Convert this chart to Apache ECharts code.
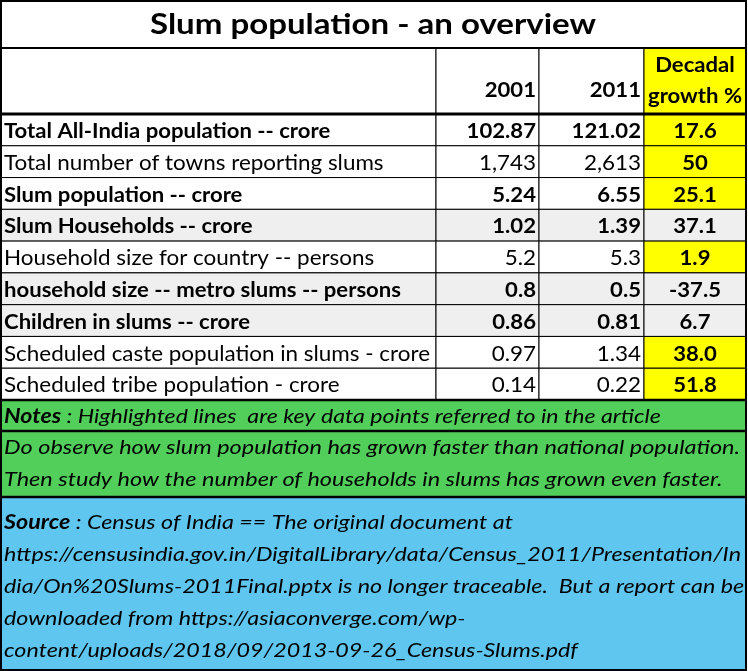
<!DOCTYPE html>
<html>
<head>
<meta charset="utf-8">
<script src="https://cdn.jsdelivr.net/npm/echarts@6/dist/echarts.min.js"></script>
<style>
  html, body { margin: 0; padding: 0; background: #fff; }
  #chart { width: 748px; height: 671px; }
</style>
</head>
<body>
<div id="chart"></div>
<script>
const title = "Slum population - an overview";
const columnHeaders = ["2001", "2011", "Decadal\ngrowth %"];
const rowLabels = [
  "Total All-India population -- crore",
  "Total number of towns reporting slums",
  "Slum population -- crore",
  "Slum Households -- crore",
  "Household size for country -- persons",
  "household size -- metro slums -- persons",
  "Children in slums -- crore",
  "Scheduled caste population in slums - crore",
  "Scheduled tribe population - crore"
];
const values2001 = [102.87, 1743, 5.24, 1.02, 5.2, 0.8, 0.86, 0.97, 0.14];
const values2011 = [121.02, 2613, 6.55, 1.39, 5.3, 0.5, 0.81, 1.34, 0.22];
const growth = [17.6, 50, 25.1, 37.1, 1.9, -37.5, 6.7, 38.0, 51.8];
const valueDecimals = [2, 0, 2, 2, 1, 1, 2, 2, 2];
const growthDecimals = [1, 0, 1, 1, 1, 1, 1, 1, 1];
// rows referred to in the article (yellow growth cell)
const keyRows = [true, true, true, false, true, false, false, true, true];
const boldRows = [true, false, true, true, false, true, true, false, false];
const shadedRows = [false, false, false, true, false, true, true, false, false];
const noteText = "Highlighted lines  are key data points referred to in the article";
const observeLines = [
  "Do observe how slum population has grown faster than national population.",
  "Then study how the number of households in slums has grown even faster."
];
const sourceLines = [
  "Census of India == The original document at",
  "https://censusindia.gov.in/DigitalLibrary/data/Census_2011/Presentation/In",
  "dia/On%20Slums-2011Final.pptx is no longer traceable.  But a report can be",
  "downloaded from https://asiaconverge.com/wp-",
  "content/uploads/2018/09/2013-09-26_Census-Slums.pdf"
];

const FONT = "Lato";
const colEdges = [0, 436, 539, 644, 746];
const yTitle = 48, yHead = 114, yTable = 400, yNotes = 431, yGreen = 497, yBlue = 669;

const measureCtx = document.createElement("canvas").getContext("2d");
function squeeze(text, font, width) {
  measureCtx.font = font;
  return width / measureCtx.measureText(text).width;
}
const regScale = squeeze(rowLabels[7], `21px ${FONT}`, 426);
const boldScale = squeeze(rowLabels[5], `bold 21px ${FONT}`, 397);
const titleScale = squeeze(title, `bold 29px ${FONT}`, 446);
const italicScale = squeeze(observeLines[0], `italic 20px ${FONT}`, 736);
const notesScale = squeeze("Notes : " + noteText, `italic 20px ${FONT}`, 656);
const sourceScale = squeeze(sourceLines[1], `italic 20px ${FONT}`, 737);

function fmt(v, d) {
  return d === 0 ? v.toLocaleString("en-US") : v.toFixed(d);
}

function cellText(x, y, text, bold, align, scale) {
  return {
    type: "text",
    x, y,
    scaleX: scale,
    style: {
      text,
      fontFamily: FONT,
      fontSize: 21,
      fontWeight: bold ? "bold" : "normal",
      fill: "#000",
      align,
      verticalAlign: "middle"
    }
  };
}

function renderRow(params, api) {
  const i = api.value(1);
  const h = api.size([0, 1])[1];
  const cy = api.coord([0, i])[1];
  const top = cy - h / 2;
  const xs = colEdges.map((e) => api.coord([e, i])[0]);
  const rowFill = shadedRows[i] ? "#efefef" : "#ffffff";
  const children = [];
  for (let c = 0; c < 4; c++) {
    children.push({
      type: "rect",
      shape: { x: xs[c], y: top, width: xs[c + 1] - xs[c], height: h },
      style: { fill: c === 3 && keyRows[i] ? "#ffff00" : rowFill, stroke: "#000", lineWidth: 1 }
    });
  }
  const b = boldRows[i];
  const ty = cy + 1.5;
  children.push(cellText(xs[0] + 4, ty, rowLabels[i], b, "left", b ? boldScale : regScale));
  children.push(cellText(xs[2] - 3, ty, fmt(values2001[i], valueDecimals[i]), b, "right", b ? boldScale : regScale));
  children.push(cellText(xs[3] - 3, ty, fmt(values2011[i], valueDecimals[i]), b, "right", b ? boldScale : regScale));
  const gb = b || keyRows[i];
  children.push(cellText((xs[3] + xs[4]) / 2, ty, fmt(growth[i], growthDecimals[i]), gb, "center", gb ? boldScale : regScale));
  return { type: "group", children };
}

function hline(y, w) {
  return { type: "line", z: 50, shape: { x1: 0, y1: y, x2: colEdges[4], y2: y }, style: { stroke: "#000", lineWidth: w } };
}

const richItalic = { fontFamily: FONT, fontSize: 20, fontStyle: "italic", fill: "#000", lineHeight: 32 };
const richBold = Object.assign({}, richItalic, { fontWeight: "bold" });

const graphic = [
  { type: "rect", z: 1, shape: { x: 0, y: 0, width: colEdges[4], height: yTitle }, style: { fill: "#fff" } },
  {
    type: "text", z: 5, x: colEdges[4] / 2, y: yTitle / 2 + 1, scaleX: titleScale,
    style: { text: title, fontFamily: FONT, fontSize: 29, fontWeight: "bold", fill: "#000", align: "center", verticalAlign: "middle" }
  },
  // header cells
  ...[0, 1, 2, 3].map((c) => ({
    type: "rect", z: 1,
    shape: { x: colEdges[c], y: yTitle, width: colEdges[c + 1] - colEdges[c], height: yHead - yTitle },
    style: { fill: c === 3 ? "#ffff00" : "#fff", stroke: "#000", lineWidth: 1 }
  })),
  ...[0, 1].map((c) => ({
    type: "text", z: 5, x: colEdges[c + 2] - 3, y: 90, scaleX: boldScale,
    style: { text: columnHeaders[c], fontFamily: FONT, fontSize: 21, fontWeight: "bold", fill: "#000", align: "right", verticalAlign: "middle" }
  })),
  {
    type: "text", z: 5, x: (colEdges[3] + colEdges[4]) / 2, y: 81, scaleX: boldScale,
    style: { text: columnHeaders[2], fontFamily: FONT, fontSize: 21, fontWeight: "bold", fill: "#000", align: "center", verticalAlign: "middle", lineHeight: 31 }
  },
  // notes
  { type: "rect", z: 1, shape: { x: 0, y: yTable, width: colEdges[4], height: yNotes - yTable }, style: { fill: "#52cf5b" } },
  { type: "rect", z: 1, shape: { x: 0, y: yNotes, width: colEdges[4], height: yGreen - yNotes }, style: { fill: "#52cf5b" } },
  { type: "rect", z: 1, shape: { x: 0, y: yGreen, width: colEdges[4], height: yBlue - yGreen }, style: { fill: "#5fc7ef" } },
  {
    type: "text", z: 5, x: 4, y: (yTable + yNotes) / 2 + 1, scaleX: notesScale,
    style: { text: `{b|Notes}{i| : ${noteText}}`, verticalAlign: "middle", rich: { b: richBold, i: richItalic } }
  },
  {
    type: "text", z: 5, x: 4, y: yNotes + 1, scaleX: italicScale,
    style: { text: observeLines.map((l) => `{i|${l}}`).join("\n"), verticalAlign: "top", rich: { i: richItalic } }
  },
  {
    type: "text", z: 5, x: 4, y: yGreen + 10, scaleX: sourceScale,
    style: {
      text: sourceLines.map((l, k) => (k === 0 ? `{b|Source}{i| : ${l}}` : `{i|${l}}`)).join("\n"),
      verticalAlign: "top", rich: { b: richBold, i: richItalic }
    }
  },
  hline(yTitle, 2), hline(yHead, 3), hline(yTable, 2.5), hline(yNotes, 2.5), hline(yGreen, 2.5),
  { type: "rect", z: 50, shape: { x: 1, y: 1, width: colEdges[4] - 1, height: yBlue }, style: { fill: null, stroke: "#000", lineWidth: 2 } }
];

const chart = echarts.init(document.getElementById("chart"), null, { renderer: "canvas" });
chart.setOption({
  animation: false,
  backgroundColor: "#fff",
  grid: { left: 0, top: yHead, width: colEdges[4], height: yTable - yHead },
  xAxis: { type: "value", min: 0, max: colEdges[4], show: false },
  yAxis: { type: "category", data: rowLabels, inverse: true, show: false },
  graphic,
  series: [
    {
      type: "custom",
      renderItem: renderRow,
      encode: { x: 0, y: 1 },
      clip: false,
      data: rowLabels.map((_, i) => [0, i])
    }
  ]
});
</script>
</body>
</html>
